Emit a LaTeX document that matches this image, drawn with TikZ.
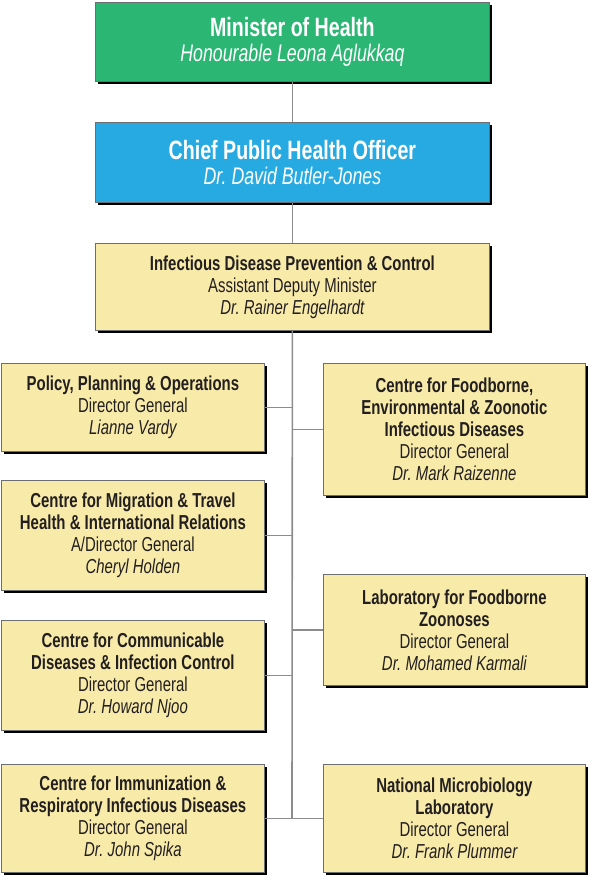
\documentclass[tikz,border=0pt]{standalone}
\usepackage{fontspec}
\setmainfont{Liberation Sans}[FakeStretch=0.74]
\frenchspacing
\usetikzlibrary{shadows}
\definecolor{mgreen}{HTML}{2BB673}
\definecolor{mblue}{HTML}{27AAE1}
\definecolor{myellow}{HTML}{F8EBAA}
\definecolor{mtext}{HTML}{231F20}
\definecolor{mborder}{HTML}{6D6E71}
\definecolor{mline}{HTML}{8A8C8E}
\tikzset{
  box/.style={draw=mborder, line width=0.8pt, rectangle, anchor=north west, align=center,
    inner sep=0pt, text=mtext,
    drop shadow={shadow xshift=3pt, shadow yshift=-3pt, fill=black, opacity=1}},
  topbox/.style={box, fill=#1, text=white, minimum width=394pt,
    font=\fontsize{24}{25}\selectfont},
  ybox/.style={box, fill=myellow, font=\fontsize{20.2}{22}\selectfont},
  conn/.style={draw=mline, line width=1.6pt}
}
\begin{document}
\begin{tikzpicture}[x=1pt,y=-1pt]
\useasboundingbox (0,0) rectangle (589,878);
\node[topbox=mgreen, minimum height=79pt] (min) at (95,2)
  {{\fontsize{26.5}{25}\selectfont\bfseries Minister of Health}\\\itshape Honourable Leona Aglukkaq};
\node[topbox=mblue, minimum height=80pt] (cpho) at (95,122)
  {{\fontsize{26.5}{25}\selectfont\bfseries Chief Public Health Officer}\\\itshape Dr. David Butler-Jones};
\node[ybox, minimum width=394pt, minimum height=87pt] (idpc) at (95,243)
  {{\bfseries Infectious Disease Prevention \& Control}\\Assistant Deputy Minister\\\itshape Dr. Rainer Engelhardt};
% left column
\node[ybox, minimum width=263pt, minimum height=88pt] (pol) at (1,363)
  {{\bfseries Policy, Planning \& Operations}\\Director General\\\itshape Lianne Vardy};
\node[ybox, minimum width=263pt, minimum height=110pt] (mig) at (1,480)
  {{\bfseries Centre for Migration \& Travel}\\{\bfseries Health \& International Relations}\\A/Director General\\\itshape Cheryl Holden};
\node[ybox, minimum width=263pt, minimum height=110pt] (com) at (1,620)
  {{\bfseries Centre for Communicable}\\{\bfseries Diseases \& Infection Control}\\Director General\\\itshape Dr. Howard Njoo};
\node[ybox, minimum width=263pt, minimum height=108pt] (imm) at (1,764)
  {{\bfseries Centre for Immunization \&}\\{\bfseries Respiratory Infectious Diseases}\\Director General\\\itshape Dr. John Spika};
% right column
\node[ybox, minimum width=262pt, minimum height=132pt] (food) at (323,363)
  {{\bfseries Centre for Foodborne,}\\{\bfseries Environmental \& Zoonotic}\\{\bfseries Infectious Diseases}\\Director General\\\itshape Dr. Mark Raizenne};
\node[ybox, minimum width=262pt, minimum height=111pt] (lab) at (323,574)
  {{\bfseries Laboratory for Foodborne}\\{\bfseries Zoonoses}\\Director General\\\itshape Dr. Mohamed Karmali};
\node[ybox, minimum width=262pt, minimum height=108pt] (nml) at (323,764)
  {{\bfseries National Microbiology}\\{\bfseries Laboratory}\\Director General\\\itshape Dr. Frank Plummer};
% connectors
\coordinate (tend) at (292,818);
\draw[conn] (min) -- (cpho);
\draw[conn] (cpho) -- (idpc);
\draw[conn] (idpc.south) -- (tend);
\draw[conn] (pol.east) -- (pol.east -| tend);
\draw[conn] (mig.east) -- (mig.east -| tend);
\draw[conn] (com.east) -- (com.east -| tend);
\draw[conn] (imm.east) -- (nml.west);
\draw[conn] (food.west) -- (food.west -| tend);
\draw[conn] (lab.west) -- (lab.west -| tend);
\end{tikzpicture}
\end{document}
